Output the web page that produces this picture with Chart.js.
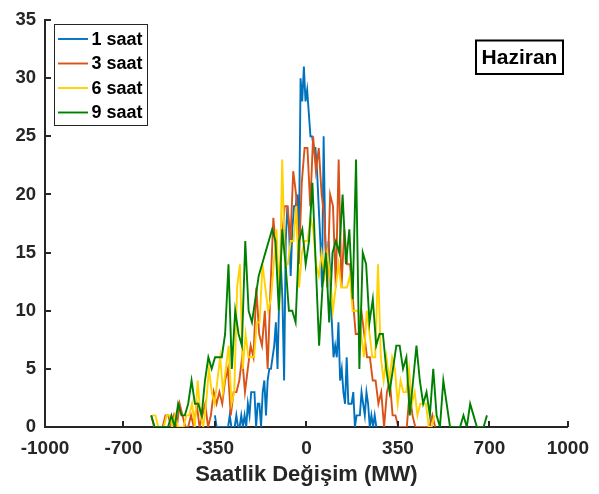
<!DOCTYPE html>
<html>
<head>
<meta charset="utf-8">
<script src="https://cdn.jsdelivr.net/npm/chart.js@4.4.0/dist/chart.umd.min.js"></script>
<style>
  body { margin: 0; background: #fff; }
</style>
</head>
<body>
<canvas id="histChart" width="599" height="494"></canvas>
<script>

// series names and month label
const seriesLabels = ['1 saat', '3 saat', '6 saat', '9 saat'];
const monthLabel = 'Haziran';

// x tick values (MW)
const xTicks = [-1000, -700, -350, 0, 350, 700, 1000];

// bin start (MW) and bin width (MW) for each series
const binStart = [-350, -593.5, -588.6, -593.5];
const binWidth = [6.3, 10.86, 10.78, 12.84];

// counts per bin
const saat1 = [1,0,0,0,0,0,0,0,0,
  1,0,0,0,1,0,0,1,0,1,0,
  2,1,3,3,3,0,2,2,0,3,
  4,1,4,5,5,6,7,9,5,11,
  14,11,4,16,19,17,13,17,19,19,
  20,16,30,28,31,28,29,27,25,25,
  24,24,22,19,16,12,25,16,13,16,
  13,9,6,7,6,9,4,5,3,2,
  6,2,2,2,3,0,1,1,1,3,
  2,1,3,2,0,1,0,1,0];

const saat3 = [1,0,0,0,0,1,1,0,1,0,
  2,1,0,0,1,0,2,0,1,2,
  0,1,3,2,3,2,4,5,1,3,
  3,4,6,3,5,7,6,12,8,7,
  10,5,12,18,15,12,16,19,19,16,
  22,20,14,21,24,24,19,25,22,24,
  20,18,12,20,19,12,23,12,17,14,
  14,11,8,8,10,8,6,6,4,4,
  2,3,0,3,4,1,1,0,0,0,
  0,3,1,0,0,0,0,0,0,1,0];

const saat6 = [1,1,0,0,0,1,1,0,1,0,
  0,0,1,1,2,0,4,1,0,2,
  5,3,2,4,6,3,5,7,2,3,
  12,14,5,8,6,6,6,9,9,14,
  12,10,11,14,17,10,23,14,14,16,
  16,19,12,15,16,16,18,17,14,13,
  15,13,15,13,10,12,14,12,12,12,
  13,10,10,10,8,6,10,8,6,6,
  14,6,4,6,4,6,5,2,4,3,
  3,5,2,3,1,2,2,2,0,0,1];

const saat9 = [1,0,0,0,0,0,1,0,2,1,
  1,2,4,2,2,1,4,6,5,6,
  6,6,8,14,5,10,8,7,16,10,
  9,11,13,14,15,16,17,16,10,17,
  14,10,10,9,16,17,14,16,21,14,
  7,12,15,9,15,16,15,20,14,17,
  11,23,5,15,14,9,11,7,8,8,
  5,3,5,7,7,5,6,1,4,7,
  4,2,3,1,5,1,0,4,2,0,
  0,0,0,1,0,2,1,0,0,0,1];

const counts = [saat1, saat3, saat6, saat9];
const colors = ['#0072BD', '#D95319', '#FFD200', '#008000'];

const axisColor = '#262626';
const fontFamily = '"Liberation Sans", Arial, Helvetica, sans-serif';

function toPoints(k) {
  return counts[k].map((c, i) => ({ x: binStart[k] + i * binWidth[k], y: c }));
}

const datasets = counts.map((c, k) => ({
  label: seriesLabels[k],
  data: toPoints(k),
  borderColor: colors[k],
  backgroundColor: colors[k],
  borderWidth: 1.9,
  pointRadius: 0,
  tension: 0,
  fill: false,
  order: 4 - k
}));

// inward tick marks, legend box and month box
const decorations = {
  id: 'decorations',
  afterDraw(chart) {
    const ctx = chart.ctx;
    const xs = chart.scales.x;
    const ys = chart.scales.y;
    const area = chart.chartArea;

    ctx.save();
    ctx.strokeStyle = axisColor;
    ctx.lineWidth = 2;
    xTicks.forEach(v => {
      const px = Math.round(xs.getPixelForValue(v));
      ctx.beginPath();
      ctx.moveTo(px, area.bottom);
      ctx.lineTo(px, area.bottom - 6);
      ctx.stroke();
    });
    for (let v = 0; v <= 35; v += 5) {
      const py = Math.round(ys.getPixelForValue(v));
      ctx.beginPath();
      ctx.moveTo(area.left, py);
      ctx.lineTo(area.left + 6, py);
      ctx.stroke();
    }

    // legend
    const lx = 54.5, ly = 24.5, lw = 93, lh = 101;
    ctx.fillStyle = '#fff';
    ctx.fillRect(lx, ly, lw, lh);
    ctx.lineWidth = 1;
    ctx.strokeStyle = axisColor;
    ctx.strokeRect(lx, ly, lw, lh);
    ctx.font = 'bold 18px ' + fontFamily;
    ctx.textBaseline = 'middle';
    ctx.textAlign = 'left';
    const rowY = [39, 63.5, 88, 112.5];
    seriesLabels.forEach((lab, k) => {
      ctx.strokeStyle = colors[k];
      ctx.lineWidth = 1.9;
      ctx.beginPath();
      ctx.moveTo(58, rowY[k]);
      ctx.lineTo(88, rowY[k]);
      ctx.stroke();
      ctx.fillStyle = '#000';
      ctx.fillText(lab, 91.5, rowY[k] + 1);
    });

    // month box
    const bx = 476, by = 40.5, bw = 87, bh = 33.5;
    ctx.lineWidth = 2;
    ctx.strokeStyle = '#000';
    ctx.strokeRect(bx, by, bw, bh);
    ctx.fillStyle = '#000';
    ctx.textAlign = 'center';
    ctx.font = 'bold 21px ' + fontFamily;
    ctx.fillText(monthLabel, bx + bw / 2, by + bh / 2 + 1);
    ctx.restore();
  }
};

new Chart(document.getElementById('histChart'), {
  type: 'line',
  data: { datasets: datasets },
  options: {
    responsive: false,
    animation: false,
    devicePixelRatio: 1,
    layout: { padding: { top: 14, right: 29, left: 0, bottom: 0 } },
    plugins: {
      legend: { display: false },
      tooltip: { enabled: false }
    },
    scales: {
      x: {
        type: 'linear',
        min: -1000,
        max: 1000,
        afterBuildTicks: (scale) => {
          scale.ticks = xTicks.map(v => ({ value: v }));
        },
        afterFit: (scale) => { scale.height = 67; },
        grid: { display: false, drawTicks: false },
        border: { display: true, color: axisColor, width: 2 },
        ticks: {
          color: axisColor,
          padding: 10,
          maxRotation: 0,
          autoSkip: false,
          callback: (v) => String(v),
          font: { family: fontFamily, size: 19, weight: 'bold' }
        },
        title: {
          display: true,
          text: 'Saatlik Değişim (MW)',
          color: axisColor,
          padding: { top: 0, bottom: 6 },
          font: { family: fontFamily, size: 22, weight: 'bold' }
        }
      },
      y: {
        min: 0,
        max: 35,
        afterFit: (scale) => { scale.width = 45; },
        grid: { display: false, drawTicks: false },
        border: { display: true, color: axisColor, width: 2 },
        ticks: {
          stepSize: 5,
          color: axisColor,
          padding: 9,
          font: { family: fontFamily, size: 18.5, weight: 'bold' }
        }
      }
    }
  },
  plugins: [decorations]
});
</script>
</body>
</html>
